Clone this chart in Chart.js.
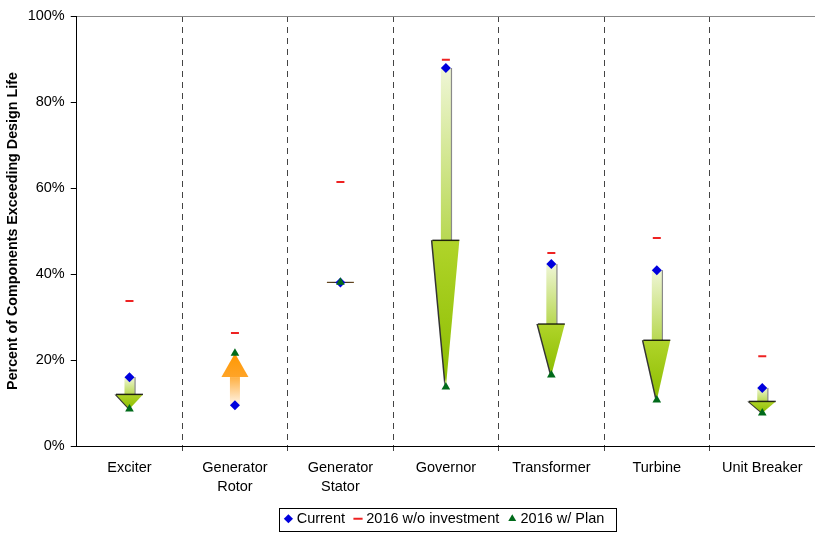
<!DOCTYPE html>
<html>
<head>
<meta charset="utf-8">
<script src="https://cdn.jsdelivr.net/npm/chart.js@4"></script>
<style>
  html, body { margin: 0; padding: 0; background: #fff; }
  #wrap { width: 815px; height: 542px; }
</style>
</head>
<body>
<div id="wrap"><canvas id="chart" width="815" height="542"></canvas></div>
<script>
// categories and values (percent)
var categories = ['Exciter', ['Generator', 'Rotor'], ['Generator', 'Stator'], 'Governor', 'Transformer', 'Turbine', 'Unit Breaker'];
var current = [16.0, 9.5, 38.0, 87.9, 42.3, 40.9, 13.5];
var noInvestment = [33.7, 26.3, 61.4, 89.8, 44.9, 48.4, 20.9];
var withPlan = [8.6, 21.6, 38.1, 13.7, 16.5, 10.7, 7.7];
var yTicks = [0, 20, 40, 60, 80, 100];

var FONT = 'Liberation Sans, Arial, sans-serif';

// arrows from current value to plan value
var arrowPlugin = {
  id: 'arrows',
  beforeDatasetsDraw: function(chart) {
    var ctx = chart.ctx;
    var xs = chart.scales.x, ys = chart.scales.y;
    for (var i = 0; i < current.length; i++) {
      var x = xs.getPixelForValue(i);
      var y1 = ys.getPixelForValue(current[i]);
      var y2 = ys.getPixelForValue(withPlan[i]);
      var len = y2 - y1;
      var shaft = 5, head = 13.5;
      ctx.save();
      if (Math.abs(len) < 2) {
        var ym = (y1 + y2) / 2;
        var gl = ctx.createLinearGradient(x - head, 0, x + head, 0);
        gl.addColorStop(0, '#6b4a20');
        gl.addColorStop(0.5, '#222');
        gl.addColorStop(1, '#6b4a20');
        ctx.strokeStyle = gl;
        ctx.lineWidth = 1.2;
        ctx.beginPath();
        ctx.moveTo(x - head, ym);
        ctx.lineTo(x + head, ym);
        ctx.stroke();
        ctx.restore();
        continue;
      }
      var down = len > 0;
      var yh = y1 + len * 0.54;
      var g1 = ctx.createLinearGradient(0, y1, 0, yh);
      var g2 = ctx.createLinearGradient(0, yh, 0, y2);
      if (down) {
        g1.addColorStop(0, '#eff6d6');
        g1.addColorStop(1, '#b8d852');
        g2.addColorStop(0, '#b0d42a');
        g2.addColorStop(1, '#8cbd00');
      } else {
        g1.addColorStop(0, '#fff6ec');
        g1.addColorStop(1, '#ffb042');
        g2.addColorStop(0, '#ffa428');
        g2.addColorStop(1, '#ff9800');
      }
      var shaftRect = function(dx, fill) {
        ctx.fillStyle = fill;
        ctx.fillRect(x - shaft + dx, Math.min(y1, yh), shaft * 2, Math.abs(yh - y1));
      };
      var headTri = function(dx, fill) {
        ctx.fillStyle = fill;
        ctx.beginPath();
        ctx.moveTo(x - head + dx, yh);
        ctx.lineTo(x + head + dx, yh);
        ctx.lineTo(x + dx, y2);
        ctx.closePath();
        ctx.fill();
      };
      if (down) {
        shaftRect(1.2, 'rgba(40,40,40,0.55)');
        headTri(-1.5, 'rgba(0,0,0,0.8)');
      }
      shaftRect(0, g1);
      headTri(0, g2);
      if (down) {
        ctx.strokeStyle = 'rgba(0,0,0,0.8)';
        ctx.lineWidth = 1.5;
        ctx.beginPath();
        ctx.moveTo(x - head, yh);
        ctx.lineTo(x + head, yh);
        ctx.stroke();
      }
      ctx.restore();
    }
  }
};

// box round the legend
var legendBox = {
  id: 'legendBox',
  afterDraw: function(chart) {
    var boxes = chart.legend.legendHitBoxes;
    if (!boxes || !boxes.length) return;
    var l = Infinity, r = -Infinity, t = Infinity, b = -Infinity;
    boxes.forEach(function(h) {
      l = Math.min(l, h.left); r = Math.max(r, h.left + h.width);
      t = Math.min(t, h.top); b = Math.max(b, h.top + h.height);
    });
    var ctx = chart.ctx;
    ctx.save();
    ctx.strokeStyle = '#000';
    ctx.lineWidth = 1;
    ctx.strokeRect(Math.round(l - 8) + 0.5, Math.round(t - 4) + 0.5, Math.round(r - l + 20), Math.round(b - t + 8));
    ctx.restore();
  }
};

new Chart(document.getElementById('chart').getContext('2d'), {
  type: 'line',
  data: {
    labels: categories,
    datasets: [{
      label: 'Current',
      data: current,
      order: 3,
      showLine: false,
      pointStyle: 'rectRot',
      pointRadius: 5,
      backgroundColor: '#0000dd',
      borderColor: '#0000dd',
      borderWidth: 0
    }, {
      label: '2016 w/o investment',
      data: noInvestment,
      order: 2,
      showLine: false,
      pointStyle: 'line',
      pointRadius: 4,
      backgroundColor: '#ee2222',
      borderColor: '#ee2222',
      borderWidth: 2
    }, {
      label: '2016 w/ Plan',
      data: withPlan,
      order: 1,
      showLine: false,
      pointStyle: 'triangle',
      pointRadius: 5,
      backgroundColor: '#006a1a',
      borderColor: '#006a1a',
      borderWidth: 0
    }]
  },
  options: {
    responsive: false,
    animation: false,
    layout: { autoPadding: false, padding: { top: 16, right: 0, bottom: 6, left: 4.5 } },
    plugins: {
      tooltip: { enabled: false },
      legend: {
        position: 'bottom',
        fullSize: false,
        labels: {
          usePointStyle: true,
          boxWidth: 2,
          boxHeight: 6.5,
          padding: 12,
          color: '#000',
          font: { family: FONT, size: 14.5 },
          sort: function(a, b) { return a.datasetIndex - b.datasetIndex; }
        }
      }
    },
    scales: {
      x: {
        offset: true,
        afterFit: function(axis) { axis.height -= 3.5; },
        grid: {
          offset: true,
          color: function(c) { return (!c.tick || c.index === 0) ? 'rgba(0,0,0,0)' : '#444'; },
          lineWidth: 1,
          tickLength: 5,
          tickColor: function(c) { return (!c.tick || c.index === 0) ? 'rgba(0,0,0,0)' : '#444'; }
        },
        border: { display: true, color: '#000', width: 1, dash: [6, 5] },
        ticks: {
          color: '#000',
          padding: 7,
          maxRotation: 0,
          font: { family: FONT, size: 14.5, lineHeight: 1.31 }
        }
      },
      y: {
        min: 0,
        max: 100,
        afterBuildTicks: function(axis) { axis.ticks = yTicks.map(function(v) { return { value: v }; }); },
        grid: {
          color: function(c) { return c.tick && c.tick.value === 100 ? '#888' : 'rgba(0,0,0,0)'; },
          tickColor: '#000',
          tickLength: 6
        },
        border: { display: true, color: '#000', width: 1 },
        ticks: {
          color: '#000',
          padding: 6,
          font: { family: FONT, size: 14.5 },
          callback: function(v) { return v + '%'; }
        },
        title: {
          display: true,
          text: 'Percent of Components Exceeding Design Life',
          color: '#000',
          padding: { top: 0, bottom: 0 },
          font: { family: FONT, size: 14.3, weight: 'bold', lineHeight: 1.2 }
        }
      }
    }
  },
  plugins: [arrowPlugin, legendBox]
});
</script>
</body>
</html>
